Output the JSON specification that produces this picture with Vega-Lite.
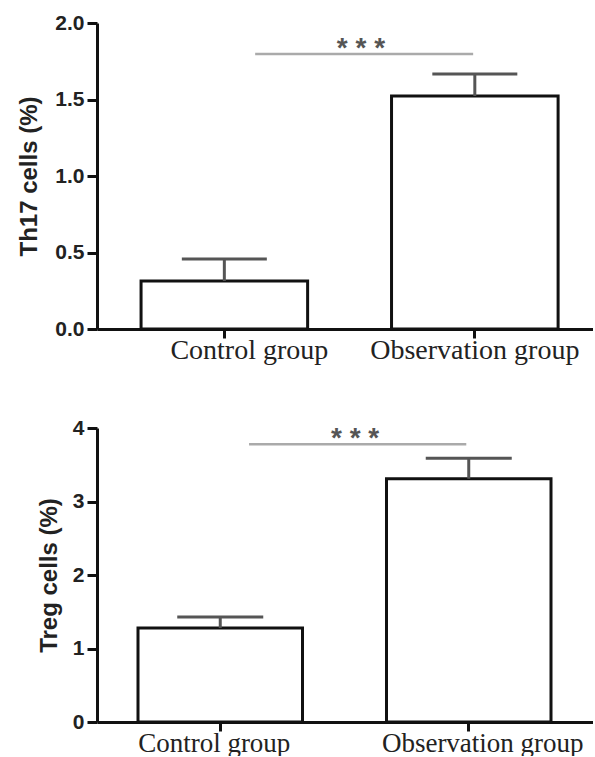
{
  "$schema": "https://vega.github.io/schema/vega-lite/v6.json",
  "padding": {"left": 17, "top": 12, "right": 0, "bottom": 0},
  "background": "white",
  "config": {
    "view": {"stroke": null},
    "axis": {
      "domainColor": "#111",
      "domainWidth": 3,
      "tickColor": "#111",
      "tickWidth": 3,
      "grid": false,
      "labelFont": "Liberation Sans",
      "labelFontWeight": "bold",
      "labelFontSize": 21,
      "labelColor": "#222",
      "labelLimit": 0,
      "titleFont": "Liberation Sans",
      "titleFontWeight": "bold",
      "titleFontSize": 24,
      "titleColor": "#222"
    }
  },
  "datasets": {
    "th17": [
      {"group": "Control group", "value": 0.314, "upper": 0.457},
      {"group": "Observation group", "value": 1.523, "upper": 1.667}
    ],
    "th17sig": [
      {"from": "Control group", "to": "Observation group", "y": 1.797, "label": "*\u00a0*\u00a0*"}
    ],
    "treg": [
      {"group": "Control group", "value": 1.28, "upper": 1.43},
      {"group": "Observation group", "value": 3.31, "upper": 3.59}
    ],
    "tregsig": [
      {"from": "Control group", "to": "Observation group", "y": 3.78, "label": "*\u00a0*\u00a0*"}
    ]
  },
  "bounds": "flush",
  "spacing": 99,
  "vconcat": [
    {
      "width": 496,
      "height": 306,
      "layer": [
        {
          "data": {"name": "th17"},
          "mark": {"type": "bar", "fill": "white", "stroke": "#111", "strokeWidth": 3},
          "encoding": {
            "x": {
              "field": "group", "type": "nominal", "sort": null,
              "scale": {"paddingInner": 0.335, "paddingOuter": 0.1576, "align": 0.558},
              "axis": {
                "title": null, "labelAngle": 0, "tickSize": 9,
                "labelFont": "Liberation Serif", "labelFontWeight": "normal", "labelFontSize": 28,
                "labelBaseline": "alphabetic", "labelPadding": 20,
                "labelOffset": {"condition": {"test": "datum.value == 'Control group'", "value": 25}, "value": 0}
              }
            },
            "y": {
              "field": "value", "type": "quantitative",
              "scale": {"domain": [0, 2], "nice": false, "zero": true},
              "axis": {
                "title": "Th17 cells (%)", "values": [0, 0.5, 1, 1.5, 2], "format": ".1f",
                "tickSize": 10, "labelPadding": 3, "titlePadding": 13
              }
            }
          }
        },
        {
          "data": {"name": "th17"},
          "mark": {"type": "rule", "color": "#555", "strokeWidth": 3},
          "encoding": {
            "x": {"field": "group", "type": "nominal", "sort": null},
            "y": {"field": "value", "type": "quantitative"},
            "y2": {"field": "upper"}
          }
        },
        {
          "data": {"name": "th17"},
          "mark": {"type": "tick", "color": "#555", "thickness": 3, "size": 85, "opacity": 1},
          "encoding": {
            "x": {"field": "group", "type": "nominal", "sort": null},
            "y": {"field": "upper", "type": "quantitative"}
          }
        },
        {
          "data": {"name": "th17sig"},
          "mark": {"type": "rule", "color": "#aaa", "strokeWidth": 2.5},
          "encoding": {
            "x": {"field": "from", "type": "nominal", "bandPosition": 0.685},
            "x2": {"field": "to", "bandPosition": 0.49},
            "y": {"field": "y", "type": "quantitative"}
          }
        },
        {
          "data": {"name": "th17sig"},
          "mark": {"type": "text", "color": "#555", "font": "Liberation Sans", "fontWeight": "bold", "fontSize": 28, "baseline": "alphabetic", "align": "center", "dy": 3},
          "encoding": {
            "x": {"field": "from", "type": "nominal", "bandPosition": 1.32},
            "y": {"field": "y", "type": "quantitative"},
            "text": {"field": "label"}
          }
        }
      ]
    },
    {
      "width": 496,
      "height": 294,
      "layer": [
        {
          "data": {"name": "treg"},
          "mark": {"type": "bar", "fill": "white", "stroke": "#111", "strokeWidth": 3},
          "encoding": {
            "x": {
              "field": "group", "type": "nominal", "sort": null,
              "scale": {"paddingInner": 0.338, "paddingOuter": 0.167, "align": 0.494},
              "axis": {
                "title": null, "labelAngle": 0, "tickSize": 9,
                "labelFont": "Liberation Serif", "labelFontWeight": "normal", "labelFontSize": 27,
                "labelBaseline": "alphabetic", "labelPadding": 20,
                "labelOffset": {"condition": {"test": "datum.value == 'Control group'", "value": -6}, "value": 14}
              }
            },
            "y": {
              "field": "value", "type": "quantitative",
              "scale": {"domain": [0, 4], "nice": false, "zero": true},
              "axis": {
                "title": "Treg cells (%)", "values": [0, 1, 2, 3, 4], "format": "d",
                "tickSize": 10, "labelPadding": 3, "titlePadding": 11
              }
            }
          }
        },
        {
          "data": {"name": "treg"},
          "mark": {"type": "rule", "color": "#555", "strokeWidth": 3},
          "encoding": {
            "x": {"field": "group", "type": "nominal", "sort": null},
            "y": {"field": "value", "type": "quantitative"},
            "y2": {"field": "upper"}
          }
        },
        {
          "data": {"name": "treg"},
          "mark": {"type": "tick", "color": "#555", "thickness": 3, "size": 86, "opacity": 1},
          "encoding": {
            "x": {"field": "group", "type": "nominal", "sort": null},
            "y": {"field": "upper", "type": "quantitative"}
          }
        },
        {
          "data": {"name": "tregsig"},
          "mark": {"type": "rule", "color": "#aaa", "strokeWidth": 2.5},
          "encoding": {
            "x": {"field": "from", "type": "nominal", "bandPosition": 0.675},
            "x2": {"field": "to", "bandPosition": 0.485},
            "y": {"field": "y", "type": "quantitative"}
          }
        },
        {
          "data": {"name": "tregsig"},
          "mark": {"type": "text", "color": "#555", "font": "Liberation Sans", "fontWeight": "bold", "fontSize": 28, "baseline": "alphabetic", "align": "center", "dy": 3},
          "encoding": {
            "x": {"field": "from", "type": "nominal", "bandPosition": 1.32},
            "y": {"field": "y", "type": "quantitative"},
            "text": {"field": "label"}
          }
        }
      ]
    }
  ]
}
